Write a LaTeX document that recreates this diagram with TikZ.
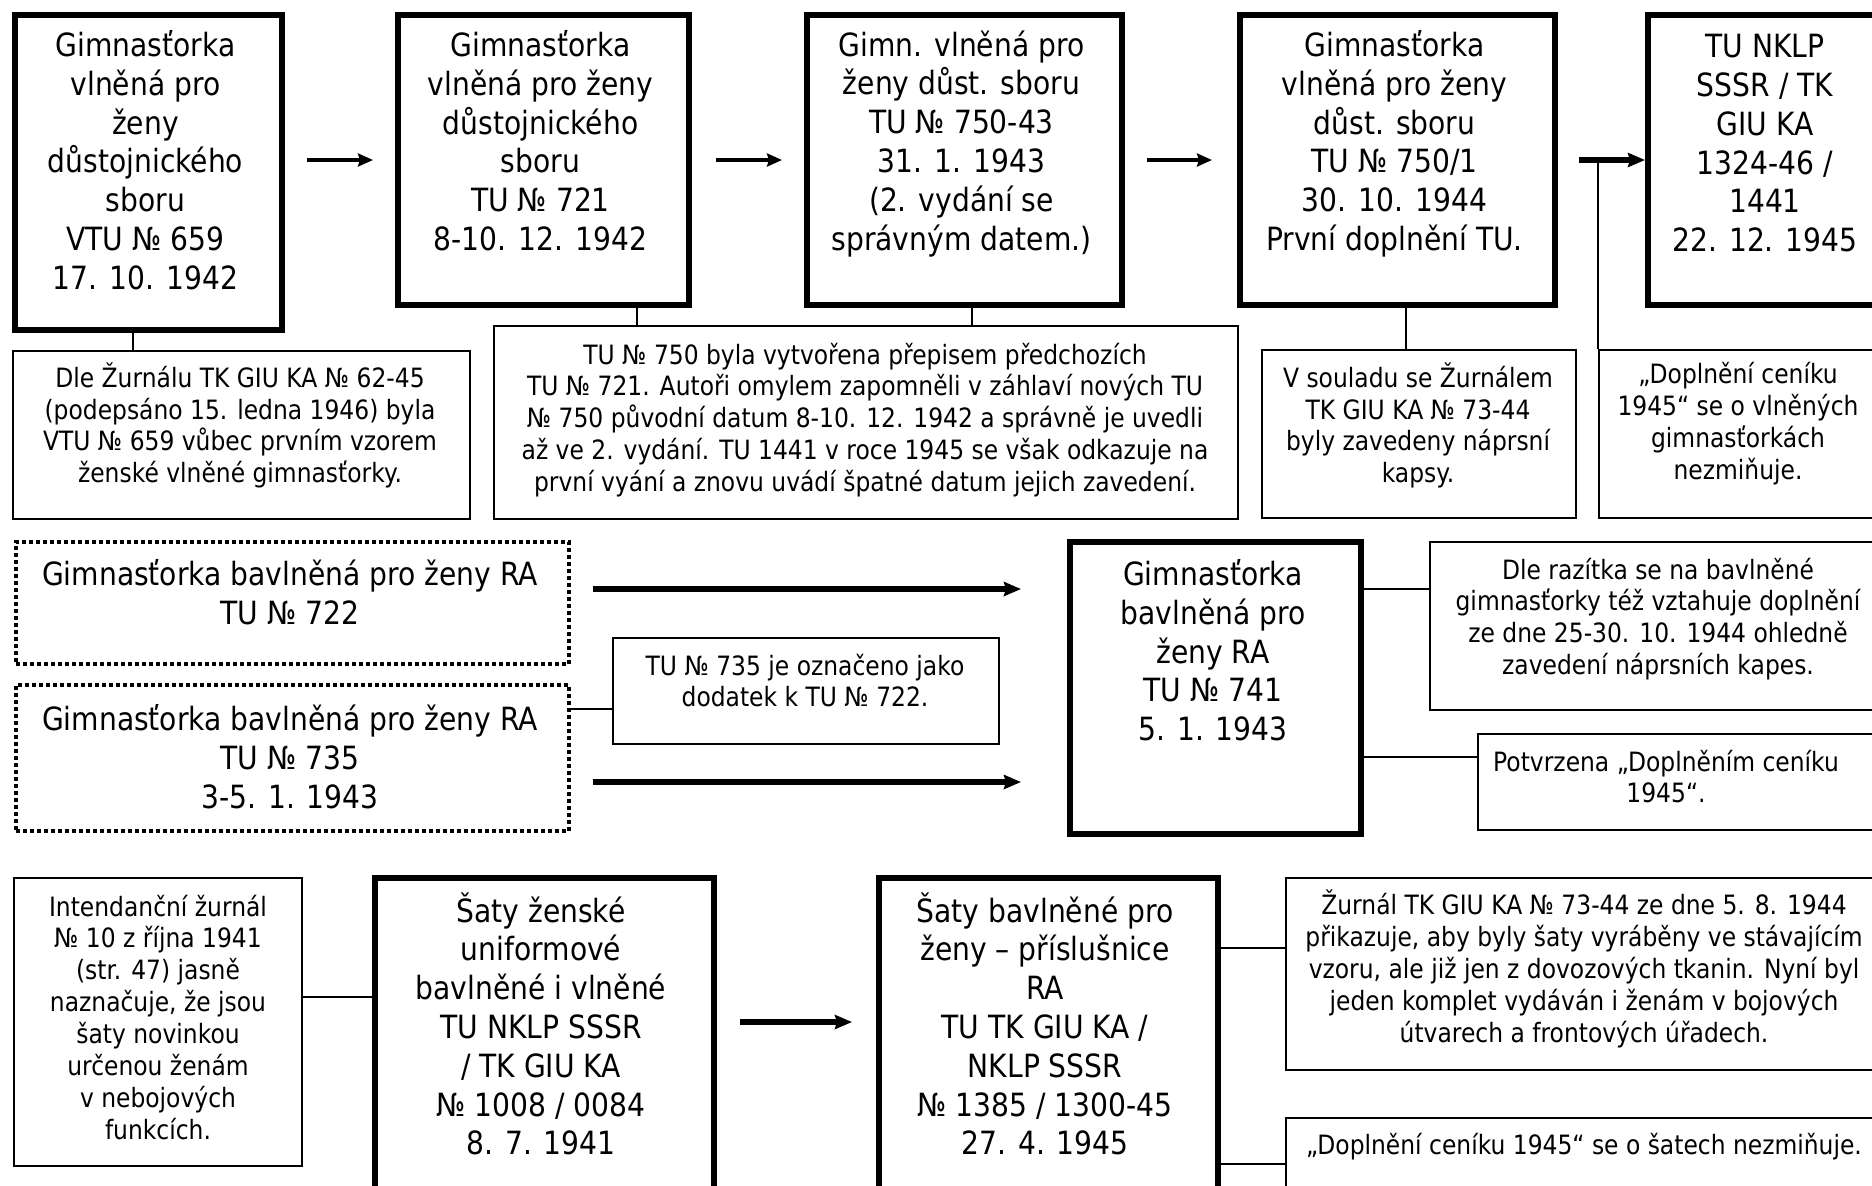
\documentclass[tikz,border=0pt]{standalone}
\usepackage{fontspec}
\setmainfont{DejaVu Sans}[FakeStretch=0.88]
\usetikzlibrary{arrows.meta,calc}
\newcommand\Bx[6]{\node[#6, anchor=north west, minimum width={(#4-#2)*0.5pt}, minimum height={(#5-#3)*0.5pt}] (#1) at (#2,#3) {};}
\tikzset{
 thickbox/.style={draw, line width=3pt, rectangle, inner sep=0pt},
 thinbox/.style={draw, line width=1pt, rectangle, inner sep=0pt},
 dotbox/.style={draw, line width=2pt, dash pattern=on 2pt off 1.5pt, rectangle, inner sep=0pt},
 maintext/.style={font=\fontsize{16}{19.4}\selectfont, align=center, inner sep=0pt, anchor=north, execute at begin node=\strut},
 notetext/.style={font=\fontsize{13.3}{15.95}\selectfont, align=center, inner sep=0pt, anchor=north, execute at begin node=\strut},
 conn/.style={line width=1pt},
 arrthin/.style={line width=2pt, -{Stealth[length=7.5pt,width=6.5pt,inset=1pt]}},
 arrthick/.style={line width=2.6pt, -{Stealth[length=8.5pt,width=7pt,inset=1pt]}},
}
\begin{document}
\begin{tikzpicture}[x=0.5pt,y=-0.5pt]
\useasboundingbox (0,0) rectangle (1872,1185);
\fill[white] (0,0) rectangle (1872,1185);
\clip (0,0) rectangle (1872,1185);
% top row boxes
\Bx{b1}{12}{12}{279}{327}{thickbox}
\Bx{b2}{395}{12}{686}{302}{thickbox}
\Bx{b3}{804}{12}{1119}{302}{thickbox}
\Bx{b4}{1237}{12}{1552}{302}{thickbox}
\Bx{b5}{1645}{12}{1895}{302}{thickbox}
\Bx{n1}{12}{350}{469}{518}{thinbox}
\Bx{n2}{493}{325}{1237}{518}{thinbox}
\Bx{n3}{1261}{349}{1575}{517}{thinbox}
\Bx{n4}{1598}{349}{1895}{517}{thinbox}
% middle row
\Bx{dA}{14}{540}{567}{662}{dotbox}
\Bx{dB}{14}{683}{567}{829}{dotbox}
\Bx{n735}{612}{637}{998}{743}{thinbox}
\Bx{b741}{1067}{539}{1358}{831}{thickbox}
\Bx{nR}{1429}{541}{1895}{709}{thinbox}
\Bx{nP}{1477}{733}{1895}{829}{thinbox}
% bottom row
\Bx{nI}{13}{877}{301}{1165}{thinbox}
\Bx{s1}{372}{875}{711}{1210}{thickbox}
\Bx{s2}{876}{875}{1215}{1210}{thickbox}
\Bx{nZ}{1285}{877}{1895}{1069}{thinbox}
\Bx{nD}{1285}{1117}{1895}{1210}{thinbox}
% texts
\node[maintext] (t1) at (145.5,30) {Gimnasťorka\\vlněná pro\\ženy\\důstojnického\\sboru\\VTU № 659\\17. 10. 1942};
\node[maintext] (t2) at (540.5,30) {Gimnasťorka\\vlněná pro ženy\\důstojnického\\sboru\\TU № 721\\8-10. 12. 1942};
\node[maintext] (t3) at (961.5,30) {Gimn. vlněná pro\\ženy důst. sboru\\TU № 750-43\\31. 1. 1943\\(2. vydání se\\správným datem.)};
\node[maintext] (t4) at (1394.5,30) {Gimnasťorka\\vlněná pro ženy\\důst. sboru\\TU № 750/1\\30. 10. 1944\\První doplnění TU.};
\node[maintext] (t5) at (1765,34) {TU NKLP\\SSSR / TK\\GIU KA\\1324-46 /\\1441\\22. 12. 1945};
\node[notetext] (tn1) at (240,362) {Dle Žurnálu TK GIU KA № 62-45\\(podepsáno 15. ledna 1946) byla\\VTU № 659 vůbec prvním vzorem\\ženské vlněné gimnasťorky.};
\node[notetext] (tn2) at (865,342.4) {TU № 750 byla vytvořena přepisem předchozích\\TU № 721. Autoři omylem zapomněli v záhlaví nových TU\\№ 750 původní datum 8-10. 12. 1942 a správně je uvedli\\až ve 2. vydání. TU 1441 v roce 1945 se však odkazuje na\\první vyání a znovu uvádí špatné datum jejich zavedení.};
\node[notetext] (tn3) at (1418,362) {V souladu se Žurnálem\\TK GIU KA № 73-44\\byly zavedeny náprsní\\kapsy.};
\node[notetext] (tn4) at (1738,362) {„Doplnění ceníku\\1945“ se o vlněných\\gimnasťorkách\\nezmiňuje.};
\node[maintext] (tA) at (290,559) {Gimnasťorka bavlněná pro ženy RA\\TU № 722};
\node[maintext] (tB) at (290,704) {Gimnasťorka bavlněná pro ženy RA\\TU № 735\\3-5. 1. 1943};
\node[notetext] (t735) at (805,653.4) {TU № 735 je označeno jako\\dodatek k TU № 722.};
\node[maintext] (t741) at (1213,559) {Gimnasťorka\\bavlněná pro\\ženy RA\\TU № 741\\5. 1. 1943};
\node[notetext] (tR) at (1658,557.4) {Dle razítka se na bavlněné\\gimnasťorky též vztahuje doplnění\\ze dne 25-30. 10. 1944 ohledně\\zavedení náprsních kapes.};
\node[notetext] (tP) at (1666,749.4) {Potvrzena „Doplněním ceníku\\1945“.};
\node[notetext] (tI) at (158,894.4) {Intendanční žurnál\\№ 10 z října 1941\\(str. 47) jasně\\naznačuje, že jsou\\šaty novinkou\\určenou ženám\\v nebojových\\funkcích.};
\node[maintext] (ts1) at (541,892) {Šaty ženské\\uniformové\\bavlněné i vlněné\\TU NKLP SSSR\\/ TK GIU KA\\№ 1008 / 0084\\8. 7. 1941};
\node[maintext] (ts2) at (1045,892) {Šaty bavlněné pro\\ženy – příslušnice\\RA\\TU TK GIU KA /\\NKLP SSSR\\№ 1385 / 1300-45\\27. 4. 1945};
\node[notetext] (tZ) at (1584,889.5) {Žurnál TK GIU KA № 73-44 ze dne 5. 8. 1944\\přikazuje, aby byly šaty vyráběny ve stávajícím\\vzoru, ale již jen z dovozových tkanin. Nyní byl\\jeden komplet vydáván i ženám v bojových\\útvarech a frontových úřadech.};
\node[notetext] (tD) at (1584,1132) {„Doplnění ceníku 1945“ se o šatech nezmiňuje.};
% helper coordinates
\coordinate (cx1) at (133,0);
\coordinate (cx2) at (637,0);
\coordinate (cx3) at (972,0);
\coordinate (cx4) at (1406,0);
\coordinate (yA) at (0,589);
\coordinate (yB) at (0,782);
\coordinate (yC) at (0,709);
\coordinate (yR) at (0,589);
\coordinate (yP) at (0,757);
\coordinate (yI) at (0,997);
\coordinate (yS) at (0,1022);
\coordinate (yZ) at (0,948);
\coordinate (yD) at (0,1164);
% top connectors
\draw[conn] (b1.south -| cx1) -- (n1.north -| cx1);
\draw[conn] (b2.south -| cx2) -- (n2.north -| cx2);
\draw[conn] (b3.south -| cx3) -- (n2.north -| cx3);
\draw[conn] (b4.south -| cx4) -- (n3.north -| cx4);
\draw[conn] (n4.north west) -- (n4.north west |- b4.east);
\draw[arrthin, shorten <=11pt, shorten >=11pt] (b1.east |- b2.west) -- (b2.west);
\draw[arrthin, shorten <=12pt, shorten >=11pt] (b2.east) -- (b3.west);
\draw[arrthin, shorten <=11pt, shorten >=12.5pt] (b3.east) -- (b4.west);
\draw[arrthick, shorten <=10.5pt] (b4.east) -- (b5.west);
% middle connectors
\draw[arrthick, shorten <=11pt, shorten >=23pt] (dA.east |- yA) -- (b741.west |- yA);
\draw[arrthick, shorten <=11pt, shorten >=23pt] (dB.east |- yB) -- (b741.west |- yB);
\draw[conn] (dB.east |- yC) -- (n735.west |- yC);
\draw[conn] (b741.east |- yR) -- (nR.west |- yR);
\draw[conn] (b741.east |- yP) -- (nP.west |- yP);
% bottom connectors
\draw[conn] (nI.east |- yI) -- (s1.west |- yI);
\draw[arrthick, shorten <=11.5pt, shorten >=12pt] (s1.east |- yS) -- (s2.west |- yS);
\draw[conn] (s2.east |- yZ) -- (nZ.west |- yZ);
\draw[conn] (s2.east |- yD) -- (nD.west |- yD);
\end{tikzpicture}
\end{document}
